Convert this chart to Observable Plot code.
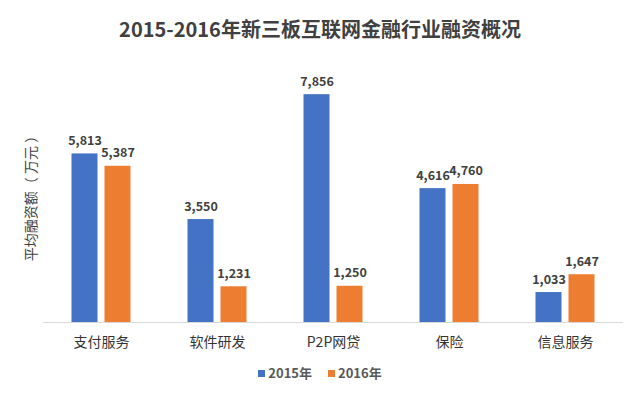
<!DOCTYPE html>
<html>
<head>
<meta charset="utf-8">
<script src="https://cdn.jsdelivr.net/npm/d3@7"></script>
<script src="https://cdn.jsdelivr.net/npm/@observablehq/plot@0.6"></script>
<style>
  body { margin: 0; background: #fff; font-family: "Noto Sans CJK SC", "Noto Sans", sans-serif; }
  #wrap { position: relative; width: 640px; height: 395px; overflow: hidden; }
  #title { position: absolute; left: 0; width: 640px; top: 15px; text-align: center; font-size: 20px; font-weight: bold; color: #404040; line-height: 28px; }
  #ylabel { position: absolute; left: 30px; top: 195px; transform: translate(-50%, -50%) rotate(-90deg); white-space: nowrap; font-size: 14px; color: #404040; }
  #legend { position: absolute; left: 0; width: 640px; top: 364px; text-align: center; font-size: 13px; font-weight: bold; color: #595959; line-height: 18px; }
  #legend span.sw { display: inline-block; width: 7px; height: 7px; margin-right: 3px; vertical-align: 1px; }
  #legend span.item { margin: 0 8px; }
  #chart { position: absolute; left: 0; top: 0; }
</style>
</head>
<body>
<div id="wrap">
  <div id="chart"></div>
  <div id="title">2015-2016年新三板互联网金融行业融资概况</div>
  <div id="ylabel">平均融资额（ 万元 ）</div>
  <div id="legend"></div>
</div>
<script>
const categories = ["支付服务", "软件研发", "P2P网贷", "保险", "信息服务"];
const seriesNames = ["2015年", "2016年"];
const values2015 = [5813, 3550, 7856, 4616, 1033];
const values2016 = [5387, 1231, 1250, 4760, 1647];
const colors = ["#4472C4", "#ED7D31"];

const d15 = categories.map((c, i) => ({category: c, series: seriesNames[0], value: values2015[i]}));
const d16 = categories.map((c, i) => ({category: c, series: seriesNames[1], value: values2016[i]}));

const fmt = d3.format(",");
const off = 16.5;

const chart = Plot.plot({
  width: 640,
  height: 395,
  marginLeft: 43,
  marginRight: 17,
  marginTop: 90,
  marginBottom: 73,
  style: {fontFamily: '"Noto Sans CJK SC", "Noto Sans", sans-serif', background: "transparent"},
  x: {domain: categories, paddingInner: 0.776, paddingOuter: 0.388, label: null},
  y: {domain: [0, 8000], axis: null},
  color: {domain: seriesNames, range: colors},
  marks: [
    Plot.barY(d15, {x: "category", y: "value", fill: colors[0], dx: -off}),
    Plot.barY(d16, {x: "category", y: "value", fill: colors[1], dx: off}),
    Plot.ruleY([0], {stroke: "#d9d9d9", strokeWidth: 1}),
    Plot.text(d15, {x: "category", y: "value", text: d => fmt(d.value), dx: -off, dy: -9, lineAnchor: "bottom", fontSize: 12.5, fontWeight: "bold", fill: "#404040"}),
    Plot.text(d16, {x: "category", y: "value", text: d => fmt(d.value), dx: off, dy: -9, lineAnchor: "bottom", fontSize: 12.5, fontWeight: "bold", fill: "#404040"}),
    Plot.axisX({tickSize: 0, tickPadding: 15, fontSize: 14, fill: "#333333", label: null})
  ]
});
document.getElementById("chart").appendChild(chart);

const legend = document.getElementById("legend");
legend.innerHTML = seriesNames.map((s, i) =>
  `<span class="item"><span class="sw" style="background:${colors[i]}"></span>${s}</span>`).join("");
</script>
</body>
</html>
